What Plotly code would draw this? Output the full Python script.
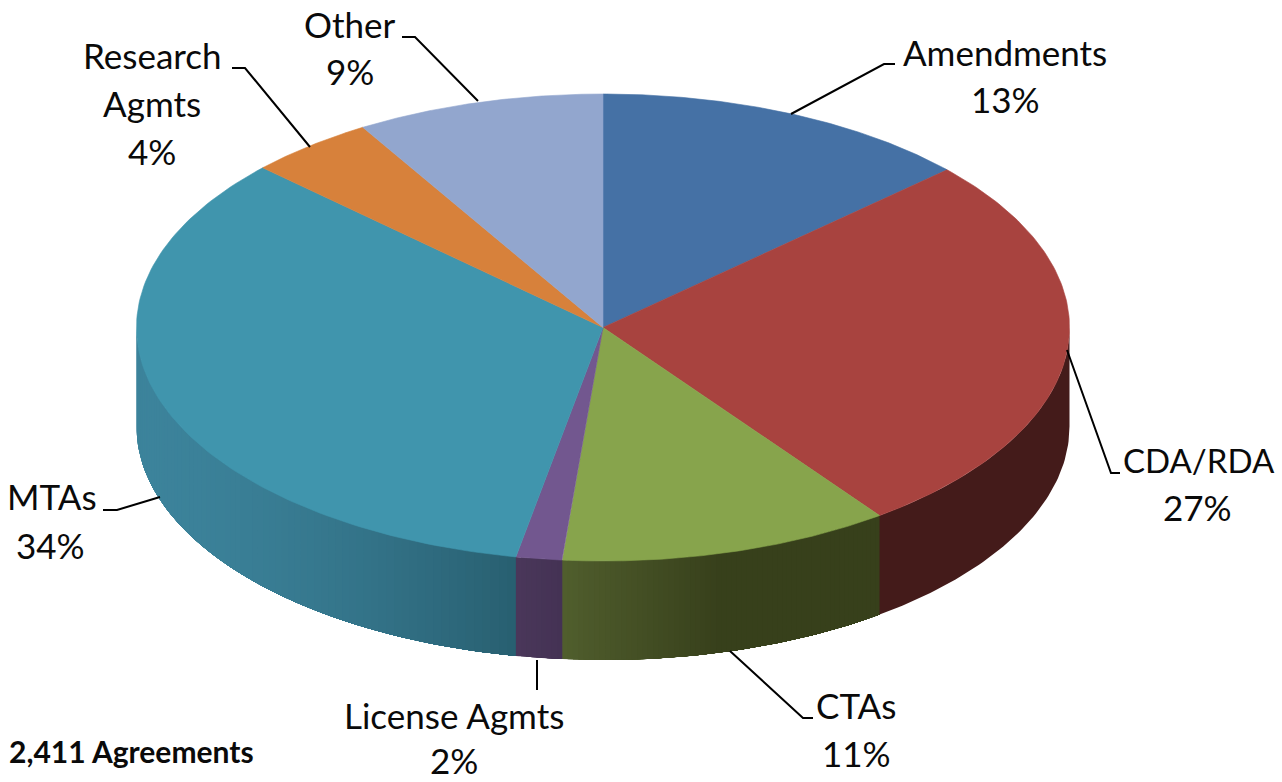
import numpy as np
import plotly.graph_objects as go

categories = ["Amendments", "CDA/RDA", "CTAs", "License Agmts", "MTAs", "Research Agmts", "Other"]
shares = [13.2, 26.7, 11.49, 1.6, 34.0, 4.4, 8.61]
total_note = "2,411 Agreements"

top_colors = ["#4571A5", "#A8433F", "#87A44C", "#72578F", "#4095AD", "#D7813B", "#92A6CE"]
# (left, right) shading of the visible side wall
side_colors = [None, ((68, 27, 26), (68, 27, 26)),
               ((80, 94, 45), (55, 64, 27)),
               ((74, 55, 90), (68, 50, 84)),
               ((60, 131, 155), (40, 95, 112)),
               None, None]

CX, CY, RX, RY, DEPTH = 603.0, 327.5, 466.5, 233.5, 99.0


def px(t):
    return CX + RX * np.sin(t)


def py(t):
    return CY - RY * np.cos(t)


edges = np.concatenate([[0.0], np.cumsum(shares)]) / sum(shares) * 2 * np.pi
fig = go.Figure()


def poly(xs, ys, color, width=0.0):
    fig.add_trace(go.Scatter(x=xs, y=ys, mode="lines", fill="toself", fillcolor=color,
                             line=dict(color=color, width=width), hoverinfo="skip", showlegend=False))


# side walls, painted from the left so that each strip covers the next one's seam
for i in [4, 3, 2, 1]:
    pair = side_colors[i]
    a, b = max(edges[i], np.pi / 2), min(edges[i + 1], 3 * np.pi / 2)
    xa, xb = px(b), px(a)
    n = 1 if pair[0] == pair[1] else max(2, int(abs(xb - xa) / 5))
    starts = np.linspace(b, a, n, endpoint=False)
    for s0 in starts:
        ts = np.linspace(s0, a, 60)
        mid = px(s0) + (xb - xa) / (2 * n)
        f = (mid - xa) / (xb - xa)
        if i == 2:
            f = min(1.0, f * 2)
        if i == 4:
            f = f ** 1.6
        rgb = [round(pair[0][k] + (pair[1][k] - pair[0][k]) * f) for k in range(3)]
        xs = np.concatenate([px(ts), px(ts[::-1])])
        ys = np.concatenate([py(ts), py(ts[::-1]) + DEPTH])
        poly(xs, ys, f"rgb({rgb[0]},{rgb[1]},{rgb[2]})")

# top face
for i in range(len(shares)):
    ts = np.linspace(edges[i], edges[i + 1], 120)
    poly(np.concatenate([[CX], px(ts), [CX]]), np.concatenate([[CY], py(ts), [CY]]), top_colors[i], 0.6)

# leader lines
leaders = [
    [(791, 114), (884, 64), (895, 64)],
    [(1067, 350), (1111, 473), (1120, 473)],
    [(730, 651), (803, 718), (813, 718)],
    [(537, 660), (537, 690)],
    [(160, 497), (117, 510), (103, 510)],
    [(310, 147), (245, 68), (232, 68)],
    [(478, 101), (415, 37), (402, 37)],
]
for pts in leaders:
    fig.add_trace(go.Scatter(x=[p[0] for p in pts], y=[p[1] for p in pts], mode="lines",
                             line=dict(color="#000000", width=2), hoverinfo="skip", showlegend=False))

label_pos = [
    [("Amendments", 1005, 52), (None, 1005, 99)],
    [("CDA/RDA", 1199, 460), (None, 1197, 507)],
    [("CTAs", 856, 705), (None, 856, 753)],
    [("License Agmts", 454, 715), (None, 454, 760)],
    [("MTAs", 52, 496), (None, 50, 545)],
    [("Research", 152, 55), ("Agmts", 152, 103), (None, 152, 151)],
    [("Other", 350, 24), (None, 350, 71)],
]
FONT = "Lato"
ann = []
for i, lines in enumerate(label_pos):
    for txt, x, y in lines:
        size = 33 if txt == "CDA/RDA" else 35
        ann.append(dict(x=x, y=y, xref="x", yref="y", showarrow=False, xanchor="center", yanchor="middle",
                        text=txt if txt else f"{round(shares[i])}%",
                        font=dict(family=FONT, size=size, color="#0a0a0a")))
ann.append(dict(x=7, y=751, xref="x", yref="y", showarrow=False, xanchor="left", yanchor="middle",
                text=f"<b>{total_note}</b>", font=dict(family=FONT, size=30, color="#0a0a0a")))

fig.update_layout(
    width=1282, height=782, margin=dict(l=0, r=0, t=0, b=0),
    paper_bgcolor="white", plot_bgcolor="white", showlegend=False, annotations=ann,
    xaxis=dict(range=[0, 1282], visible=False, fixedrange=True),
    yaxis=dict(range=[782, 0], visible=False, fixedrange=True),
)
fig.write_html("out.html", config={"displayModeBar": False},
               post_script="document.body.style.margin='0';document.body.style.overflow='hidden';")
